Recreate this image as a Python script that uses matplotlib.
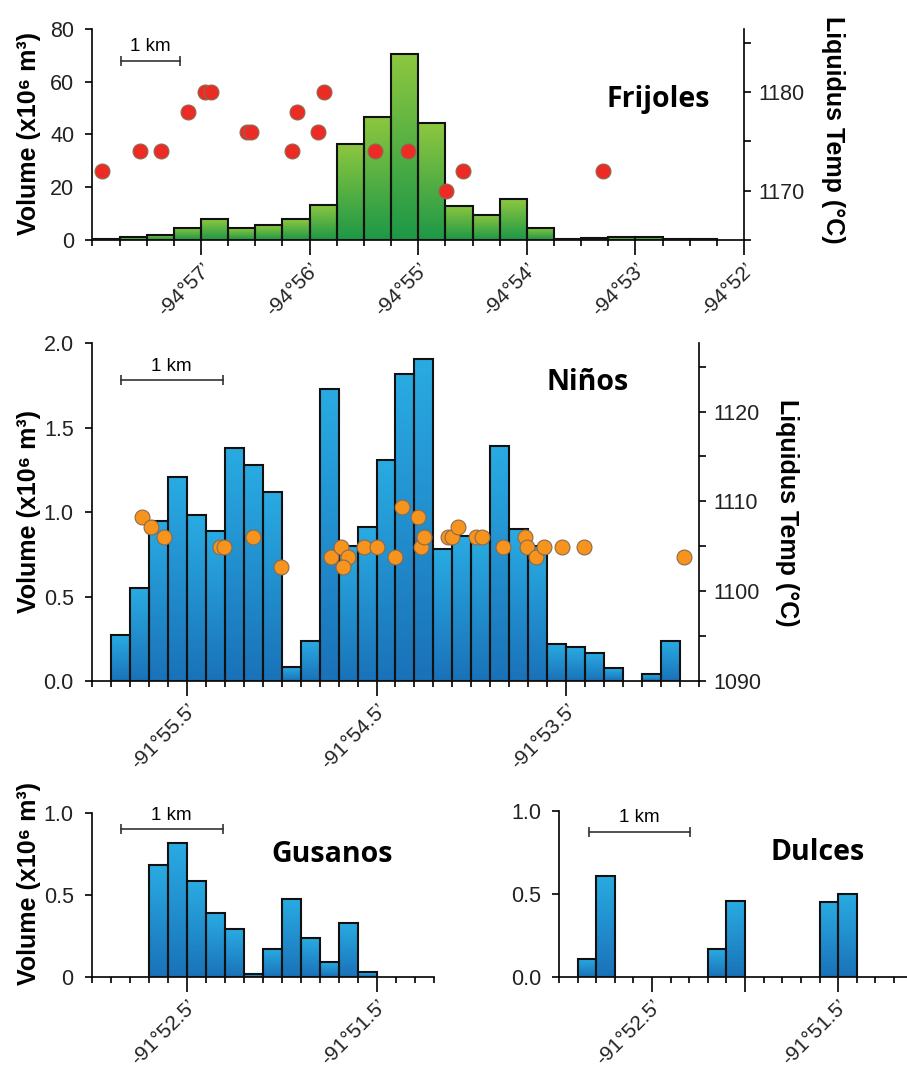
import numpy as np
import matplotlib
matplotlib.use("Agg")
import matplotlib.pyplot as plt
from matplotlib.colors import LinearSegmentedColormap

plt.rcParams['font.family'] = ['Liberation Sans', 'DejaVu Sans']

# --- Frijoles: longitude in minutes (x = -minutes past -94°), bins of 0.25'
fri_bin_start = -58.0
fri_bin_width = 0.25
fri_volume = [0.5, 1.0, 2.0, 4.7, 7.8, 4.4, 5.6, 7.8, 13.4, 36.3, 46.8, 70.5,
              44.3, 12.9, 9.5, 15.4, 4.7, 0.5, 0.7, 1.0, 1.1, 0.4, 0.4]
fri_dot_lon = [-57.91, -57.56, -57.37, -57.12, -56.96, -56.91, -56.58, -56.54,
               -56.16, -56.12, -55.92, -55.87, -55.40, -55.09, -54.74, -54.59, -53.30]
fri_dot_temp = [1172, 1174, 1174, 1178, 1180, 1180, 1176, 1176,
                1174, 1178, 1176, 1180, 1174, 1174, 1170, 1172, 1172]
fri_xticks = [-57, -56, -55, -54, -53, -52]
fri_xlabels = ["-94°57’", "-94°56’", "-94°55’", "-94°54’", "-94°53’", "-94°52’"]
fri_scale = [-57.737, -57.193, 68.0]

# --- Niños: bins of 0.1'
nin_bin_start = -56.0
nin_bin_width = 0.1
nin_volume = [0, 0.27, 0.55, 0.95, 1.21, 0.98, 0.89, 1.38, 1.28, 1.12, 0.08,
              0.235, 1.73, 0.80, 0.91, 1.31, 1.82, 1.905, 0.78, 0.86, 0.85,
              1.39, 0.90, 0.80, 0.22, 0.20, 0.165, 0.075, 0, 0.04, 0.235, 0]
nin_dot_lon = [-55.737, -55.689, -55.619, -55.325, -55.302, -55.153, -55.005,
               -54.741, -54.686, -54.651, -54.676, -54.567, -54.497, -54.404,
               -54.365, -54.281, -54.265, -54.249, -54.126, -54.105, -54.071,
               -53.974, -53.944, -53.834, -53.719, -53.707, -53.658, -53.618,
               -53.521, -53.407, -52.883]
nin_dot_temp = [1108.2, 1107.1, 1106.0, 1104.9, 1104.9, 1106.0, 1102.7,
                1103.8, 1104.9, 1103.8, 1102.7, 1104.9, 1104.9, 1103.8,
                1109.4, 1108.2, 1104.9, 1106.0, 1106.0, 1106.0, 1107.1,
                1106.0, 1106.0, 1104.9, 1106.0, 1104.9, 1103.8, 1104.9,
                1104.9, 1104.9, 1103.8]
nin_xticks = [-55.5, -54.5, -53.5]
nin_xlabels = ["-91°55.5’", "-91°54.5’", "-91°53.5’"]
nin_scale = [-55.846, -55.311, 1.78]

# --- Gusanos
gus_bin_start = -53.0
gus_bin_width = 0.1
gus_volume = [0, 0, 0, 0.68, 0.815, 0.585, 0.39, 0.29, 0.018, 0.17, 0.475,
              0.235, 0.087, 0.325, 0.028, 0, 0, 0]
gus_xticks = [-52.5, -51.5]
gus_xlabels = ["-91°52.5’", "-91°51.5’"]
gus_scale = [-52.846, -52.311, 0.90]

# --- Dulces
dul_bin_start = -53.0
dul_bin_width = 0.1
dul_volume = [0, 0.11, 0.61, 0, 0, 0, 0, 0, 0.165, 0.455, 0, 0, 0, 0,
              0.453, 0.50, 0, 0, 0]
dul_xticks = [-52.5, -52.0, -51.5]
dul_xlabels = ["-91°52.5’", "", "-91°51.5’"]
dul_scale = [-52.841, -52.297, 0.875]

GREEN = ("#8dc73f", "#1d9847")
BLUE = ("#29abe2", "#1a72b9")
VOL_LABEL = "Volume (x10⁶ m³)"
TEMP_LABEL = "Liquidus Temp (°C)"


def draw_bars(ax, start, width, heights, colors):
    heights = np.asarray(heights, float)
    lefts = start + width * np.arange(len(heights))
    keep = heights > 0
    cmap = LinearSegmentedColormap.from_list("grad", [colors[1], colors[0]])
    grad = np.linspace(0, 1, 128).reshape(-1, 1)
    bars = ax.bar(lefts[keep], heights[keep], width=width, align="edge",
                  facecolor="none", edgecolor="#111111", linewidth=1.5, zorder=3)
    for b in bars:
        x0 = b.get_x()
        ax.imshow(grad, extent=[x0, x0 + b.get_width(), 0, b.get_height()],
                  origin="lower", cmap=cmap, aspect="auto", zorder=2,
                  interpolation="bilinear")


def style(ax, xlim, ylim, xticks, xlabels, edges, yticks, ylabels):
    ax.set_xlim(xlim)
    ax.set_ylim(ylim)
    for s in ["top", "right"]:
        ax.spines[s].set_visible(False)
    for s in ["left", "bottom"]:
        ax.spines[s].set_linewidth(1.2)
    ax.set_xticks(xticks, xlabels)
    ax.set_xticks(edges, minor=True)
    ax.set_yticks(yticks, ylabels)
    ax.tick_params(axis="x", which="major", length=11, width=1.2, pad=3,
                   labelsize=15, labelcolor="#222222")
    ax.tick_params(axis="x", which="minor", length=4.5, width=1.2)
    ax.tick_params(axis="y", length=5, width=1.2, pad=8, labelsize=15.5,
                   labelcolor="#222222")
    plt.setp(ax.get_xticklabels(), rotation=45, ha="right",
             rotation_mode="anchor")


def scale_bar(ax, sb):
    ax.plot(sb[:2], [sb[2], sb[2]], color="#333333", lw=1.2, marker="|",
            markersize=7, mew=1.2, zorder=5)
    ax.annotate("1 km", ((sb[0] + sb[1]) / 2, sb[2]), xytext=(0, 4),
                textcoords="offset points", ha="center", va="bottom",
                fontsize=13.5)


def title(ax, txt, x, y):
    ax.text(x, y, txt, transform=ax.transAxes, ha="center", va="center",
            fontsize=20.5, fontweight="bold", family="Open Sans")


def temp_axis(ax, lon, temp, color, ylim, major, minor, lab_x, lab_y):
    ax2 = ax.twinx()
    ax2.scatter(lon, temp, s=115, color=color, edgecolor="#8a6a50",
                linewidth=0.8, zorder=6, clip_on=False)
    ax2.set_ylim(ylim)
    for s in ["top", "left", "bottom"]:
        ax2.spines[s].set_visible(False)
    ax2.spines["right"].set_linewidth(1.2)
    ax2.set_yticks(major)
    ax2.set_yticks(minor, minor=True)
    ax2.tick_params(axis="y", which="both", length=5, width=1.2, pad=5,
                    labelsize=15.5, labelcolor="#222222")
    ax2.set_ylabel(TEMP_LABEL, rotation=270, va="bottom", fontsize=18,
                   fontweight="bold")
    ax2.yaxis.set_label_coords(lab_x, lab_y)
    return ax2


fig = plt.figure(figsize=(9.07, 10.69), dpi=100)

# Frijoles
ax = fig.add_axes([0.1019, 0.7755, 0.7184, 0.1974])
draw_bars(ax, fri_bin_start, fri_bin_width, fri_volume, GREEN)
edges = fri_bin_start + fri_bin_width * np.arange(25)
style(ax, (-58, -52), (0, 80), fri_xticks, fri_xlabels, edges,
      [0, 20, 40, 60, 80], ["0", "20", "40", "60", "80"])
ax.set_ylabel(VOL_LABEL, fontsize=18, fontweight="bold")
ax.yaxis.set_label_coords(-0.079, 0.507)
scale_bar(ax, fri_scale)
title(ax, "Frijoles", 0.868, 0.664)
temp_axis(ax, fri_dot_lon, fri_dot_temp, "#ec2b24", (1165, 1186.4),
          [1170, 1180], [1165, 1175, 1185], 1.118, 0.521)

# Niños
ax = fig.add_axes([0.1011, 0.3630, 0.6699, 0.3159])
draw_bars(ax, nin_bin_start, nin_bin_width, nin_volume, BLUE)
edges = nin_bin_start + nin_bin_width * np.arange(33)
style(ax, (-56.0, -52.8), (0, 2.0), nin_xticks, nin_xlabels, edges,
      [0, 0.5, 1.0, 1.5, 2.0], ["0.0", "0.5", "1.0", "1.5", "2.0"])
ax.set_ylabel(VOL_LABEL, fontsize=18, fontweight="bold")
ax.yaxis.set_label_coords(-0.083, 0.501)
scale_bar(ax, nin_scale)
title(ax, "Niños", 0.817, 0.885)
temp_axis(ax, nin_dot_lon, nin_dot_temp, "#f7941d", (1090, 1127.6),
          [1090, 1100, 1110, 1120], [1095, 1105, 1115, 1125], 1.1246, 0.497)

# Gusanos
ax = fig.add_axes([0.1011, 0.0863, 0.3771, 0.1534])
draw_bars(ax, gus_bin_start, gus_bin_width, gus_volume, BLUE)
edges = gus_bin_start + gus_bin_width * np.arange(19)
style(ax, (-53.0, -51.2), (0, 1.0), gus_xticks, gus_xlabels, edges,
      [0, 0.5, 1.0], ["0", "0.5", "1.0"])
ax.set_ylabel(VOL_LABEL, fontsize=18, fontweight="bold")
ax.yaxis.set_label_coords(-0.148, 0.571)
scale_bar(ax, gus_scale)
title(ax, "Gusanos", 0.702, 0.748)

# Dulces
ax = fig.add_axes([0.6163, 0.0863, 0.3837, 0.1550])
draw_bars(ax, dul_bin_start, dul_bin_width, dul_volume, BLUE)
edges = dul_bin_start + dul_bin_width * np.arange(19)
style(ax, (-53.0, -51.13), (0, 1.0), dul_xticks, dul_xlabels, edges,
      [0, 0.5, 1.0], ["0.0", "0.5", "1.0"])
scale_bar(ax, dul_scale)
title(ax, "Dulces", 0.744, 0.747)

fig.savefig("out.png", dpi=100)
